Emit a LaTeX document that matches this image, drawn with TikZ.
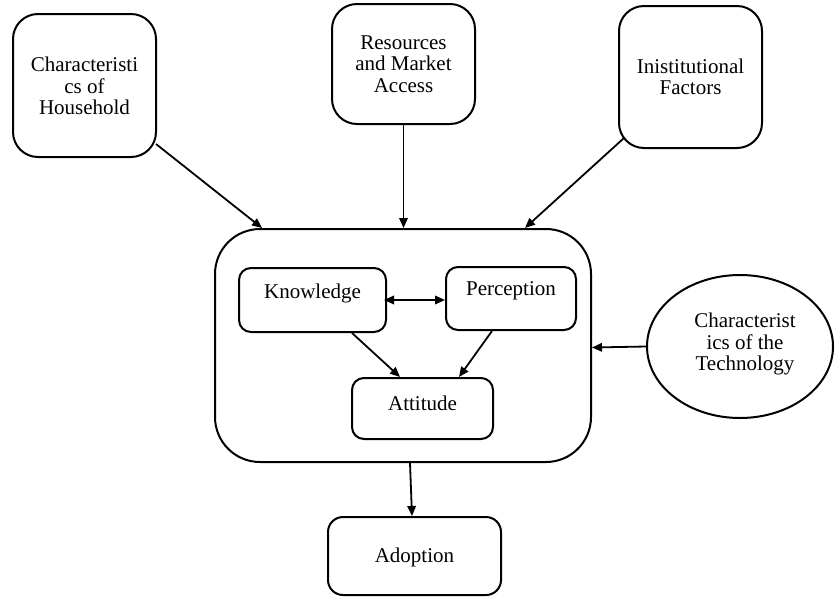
\documentclass[tikz,border=0pt]{standalone}
\usepackage{fontspec}
\setmainfont{Liberation Serif}
\usetikzlibrary{arrows.meta,shapes.geometric}
\begin{document}
\begin{tikzpicture}[x=1pt,y=-1pt,
  box/.style={draw, line width=2pt, rounded corners=#1, inner sep=0pt},
  box/.default=12pt,
  lbl/.style={font=\fontsize{21}{21.5}\selectfont, align=center, inner sep=0pt},
  arr/.style={line width=1.8pt, -{Triangle[length=10pt,width=8.5pt]}},
  darr/.style={line width=1.8pt, {Triangle[length=10pt,width=8.5pt]}-{Triangle[length=10pt,width=8.5pt]}},
]
\useasboundingbox (0,0) rectangle (835,598);

% outer factor boxes
\node[box=25pt, minimum width=143pt, minimum height=143pt] (hh) at (84.5,85.5) {};
\node[lbl] at (84.5,86) {Characteristi\\cs of\\Household};

\node[box=25pt, minimum width=143pt, minimum height=120pt] (res) at (403.5,64) {};
\node[lbl] at (403.5,64) {Resources\\and Market\\Access};

\node[box=25pt, minimum width=143pt, minimum height=142pt] (inst) at (690.5,77) {};
\node[lbl] at (690.5,77) {Inistitutional\\Factors};

% big container
\node[box=45pt, minimum width=376pt, minimum height=233pt] (big) at (403,345.5) {};

\node[box, minimum width=147pt, minimum height=64pt] (know) at (312.5,300) {};
\node[lbl] at (312.5,293) {Knowledge};

\node[box, minimum width=130pt, minimum height=63pt] (perc) at (511,298.5) {};
\node[lbl] at (511,291) {Perception};

\node[box, minimum width=141pt, minimum height=61pt] (att) at (422.5,408.5) {};
\node[lbl] at (422.5,403) {Attitude};

% technology ellipse
\node[draw, ellipse, line width=2pt, minimum width=186pt, minimum height=143pt, inner sep=0pt] (tech) at (740,346.5) {};
\node[lbl] at (745,344) {Characterist\\ics of the\\Technology};

% adoption
\node[box=15pt, minimum width=173pt, minimum height=78pt] (adop) at (414.5,556) {};
\node[lbl] at (414.5,557) {Adoption};

% connectors
\draw[arr] ([xshift=-1pt,yshift=14pt]hh.south east) -- ([xshift=-141pt]big.north);
\draw[arr] (res.south) -- (res.south |- big.north);
\draw[arr] ([xshift=6pt,yshift=11pt]inst.south west) -- ([xshift=122pt]big.north);
\draw[arr] (tech.west) -- ([yshift=-2pt]big.east);
\draw[darr] ([xshift=-3pt]know.east) -- (know.east -| perc.west);
\draw[arr] ([xshift=39.5pt]know.south) -- ([xshift=-22.5pt]att.north);
\draw[arr] ([xshift=-19pt]perc.south) -- ([xshift=36.5pt]att.north);
\draw[arr] ([xshift=7pt]big.south) -- ([xshift=-2.5pt]adop.north);
\end{tikzpicture}
\end{document}
